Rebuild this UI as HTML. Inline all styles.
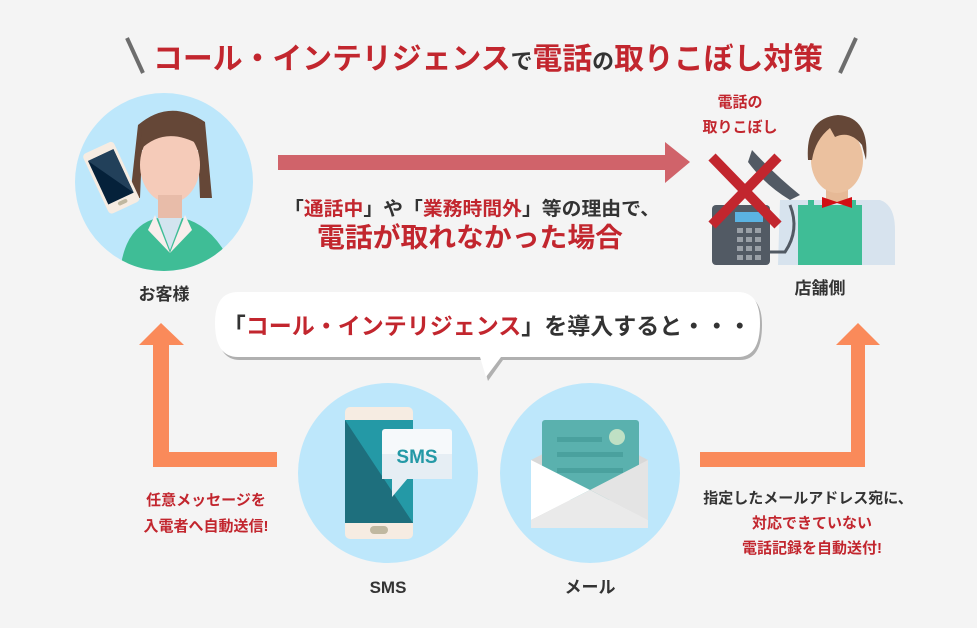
<!DOCTYPE html>
<html><head><meta charset="utf-8"><style>
html,body{margin:0;padding:0;background:#f4f4f4;}
svg{display:block;}
text{font-family:"Liberation Sans","Noto Sans CJK JP",sans-serif;font-weight:bold;}
</style></head><body>
<svg width="977" height="628" viewBox="0 0 977 628" xmlns="http://www.w3.org/2000/svg">
<rect width="977" height="628" fill="#f4f4f4"/>
<!-- title -->
<line x1="127" y1="38" x2="143" y2="73" stroke="#6d6d6d" stroke-width="4"/>
<line x1="856" y1="38" x2="840" y2="73" stroke="#6d6d6d" stroke-width="4"/>
<text x="488" y="69" font-size="30" text-anchor="middle" textLength="670" lengthAdjust="spacingAndGlyphs" fill="#c2262e">コール・インテリジェンス<tspan fill="#333" font-size="22">で</tspan>電話<tspan fill="#333" font-size="22">の</tspan>取りこぼし対策</text>

<!-- left circle customer -->
<circle cx="164" cy="182" r="89" fill="#bde7fb"/>
<clipPath id="c1"><circle cx="164" cy="182" r="89"/></clipPath>
<g clip-path="url(#c1)">
<path d="M138 125 Q170 98 205 122 L212 198 L200 198 L198 150 L142 150 L140 198 L130 198 Z" fill="#654737"/>
<ellipse cx="170" cy="165" rx="30" ry="38" fill="#f5cbb9"/>
<path d="M140 150 Q165 125 200 145 L200 125 Q170 105 142 125 Z" fill="#654737"/>
<rect x="158" y="195" width="24" height="30" fill="#e8bca9"/>
<path d="M120 272 Q125 225 158 218 L182 218 Q215 225 235 272 Z" fill="#3fbd96"/>
<path d="M158 218 L170 250 L182 218 Z" fill="#d3e4ef"/>
<path d="M155 215 L148 230 L170 253 Z" fill="#f9eeec"/>
<path d="M185 215 L192 230 L170 253 Z" fill="#f9eeec"/>
</g>
<g transform="rotate(-25 110 175)">
<rect x="93" y="145" width="34" height="66" rx="4" fill="#f6ece2"/>
<rect x="96" y="153" width="28" height="48" fill="#05213a"/>
<path d="M96 153 L124 153 L124 201 Z" fill="#22405a"/>
<rect x="105" y="203" width="10" height="4" rx="2" fill="#c0b8a0"/>
</g>
<text x="164" y="300" font-size="17" text-anchor="middle" fill="#333">お客様</text>

<!-- red arrow -->
<rect x="278" y="155" width="390" height="15" fill="#d0636a"/>
<path d="M665 142 L690 162 L665 183 Z" fill="#d0636a"/>
<text x="472" y="215" font-size="19" text-anchor="middle" textLength="376" lengthAdjust="spacingAndGlyphs" fill="#333">「<tspan fill="#c2262e">通話中</tspan>」や「<tspan fill="#c2262e">業務時間外</tspan>」等の理由で、</text>
<text x="470" y="247" font-size="27" text-anchor="middle" textLength="306" lengthAdjust="spacingAndGlyphs" fill="#c2262e">電話が取れなかった場合</text>

<!-- right: store -->
<text x="740" y="107" font-size="15" text-anchor="middle" fill="#c2262e">電話の</text>
<text x="740" y="132" font-size="15" text-anchor="middle" fill="#c2262e">取りこぼし</text>
<path d="M780 200 L880 200 Q895 205 895 230 L895 265 L778 265 Z" fill="#d7e3ee"/>
<rect x="798" y="205" width="64" height="60" fill="#3fbd96"/>
<rect x="808" y="200" width="6" height="15" fill="#3fbd96"/><rect x="850" y="200" width="6" height="15" fill="#3fbd96"/>
<rect x="826" y="180" width="22" height="22" fill="#e6b996"/>
<ellipse cx="837" cy="160" rx="26" ry="33" fill="#ebc19f"/>
<path d="M808 160 Q805 118 838 115 Q870 117 866 160 L862 145 Q850 130 835 137 L830 128 Q815 140 812 160 Z" fill="#654737"/>
<path d="M822 197 L837 202 L852 197 L852 208 L837 203 L822 208 Z" fill="#d10f14"/>
<rect x="712" y="205" width="58" height="60" rx="4" fill="#525a64"/>
<rect x="735" y="212" width="28" height="10" fill="#5bb3e2"/>
<g fill="#9aa0a7"><rect x="737" y="228" width="6" height="5"/><rect x="746" y="228" width="6" height="5"/><rect x="755" y="228" width="6" height="5"/>
<rect x="737" y="237" width="6" height="5"/><rect x="746" y="237" width="6" height="5"/><rect x="755" y="237" width="6" height="5"/>
<rect x="737" y="246" width="6" height="5"/><rect x="746" y="246" width="6" height="5"/><rect x="755" y="246" width="6" height="5"/>
<rect x="737" y="255" width="6" height="5"/><rect x="746" y="255" width="6" height="5"/><rect x="755" y="255" width="6" height="5"/></g>
<path d="M752 150 Q775 175 800 195 L790 200 Q765 185 748 162 Z" fill="#525a64"/>
<path d="M790 205 Q800 230 785 252 L770 252" stroke="#525a64" stroke-width="3" fill="none"/>
<line x1="712" y1="157" x2="778" y2="225" stroke="#c2262e" stroke-width="10"/>
<line x1="778" y1="157" x2="712" y2="225" stroke="#c2262e" stroke-width="10"/>
<text x="820" y="294" font-size="17" text-anchor="middle" fill="#333">店舗側</text>

<!-- bubble -->
<path d="M240 295 L740 295 Q762 295 762 325 Q762 360 740 360 L503 360 L488 381 L482 360 L240 360 Q217 360 217 325 Q217 295 240 295 Z" fill="#b0b0b0"/>
<path d="M238 292 L738 292 Q760 292 760 323 Q760 357 738 357 L501 357 L486 377 L480 357 L238 357 Q215 357 215 323 Q215 292 238 292 Z" fill="#fff"/>
<text x="487" y="334" font-size="23" text-anchor="middle" fill="#333">「<tspan fill="#c2262e">コール・インテリジェンス</tspan>」を導入すると・・・</text>

<!-- orange arrows -->
<path d="M153 345 L139 345 L161 323 L184 345 L169 345 L169 452 L277 452 L277 467 L153 467 Z" fill="#fa8a5a"/>
<path d="M700 452 L851 452 L851 345 L836 345 L858 323 L880 345 L865 345 L865 467 L700 467 Z" fill="#fa8a5a"/>
<text x="206" y="505" font-size="15" text-anchor="middle" fill="#c2262e">任意メッセージを</text>
<text x="206" y="531" font-size="15" text-anchor="middle" fill="#c2262e">入電者へ自動送信!</text>
<text x="808" y="503" font-size="15" text-anchor="middle" fill="#333">指定したメールアドレス宛に、</text>
<text x="812" y="528" font-size="15" text-anchor="middle" fill="#c2262e">対応できていない</text>
<text x="812" y="553" font-size="15" text-anchor="middle" fill="#c2262e">電話記録を自動送付!</text>

<!-- SMS circle -->
<circle cx="388" cy="473" r="90" fill="#bde7fb"/>
<rect x="345" y="407" width="68" height="132" rx="5" fill="#f6ece2"/>
<rect x="345" y="420" width="68" height="103" fill="#2499a6"/>
<path d="M345 420 L413 523 L345 523 Z" fill="#1e6f7d"/>
<rect x="370" y="526" width="18" height="8" rx="4" fill="#c0b8a0"/>
<rect x="382" y="429" width="70" height="50" rx="3" fill="#f6f9fb"/>
<rect x="382" y="454" width="70" height="25" fill="#e6eef4"/>
<path d="M392 478 L392 497 L408 478 Z" fill="#e6eef4"/>
<text x="417" y="463" font-size="19" text-anchor="middle" fill="#2499a6">SMS</text>
<text x="388" y="593" font-size="17" text-anchor="middle" fill="#333">SMS</text>

<!-- Mail circle -->
<circle cx="590" cy="473" r="90" fill="#bde7fb"/>
<path d="M531 460 L590 430 L648 460 L648 528 L531 528 Z" fill="#d8d8d8"/>
<rect x="542" y="420" width="97" height="80" rx="3" fill="#5ab1ae"/>
<circle cx="617" cy="437" r="8" fill="#bfe0c4"/>
<rect x="557" y="437" width="45" height="5" fill="#4aa19e"/><rect x="557" y="452" width="66" height="5" fill="#4aa19e"/><rect x="557" y="468" width="66" height="5" fill="#4aa19e"/>
<path d="M531 460 L590 490 L531 520 Z" fill="#fff"/>
<path d="M648 460 L590 490 L648 520 Z" fill="#e4e4e4"/>
<path d="M531 528 L531 520 L590 490 L648 520 L648 528 Z" fill="#eaeaea"/>
<text x="590" y="593" font-size="17" text-anchor="middle" fill="#333">メール</text>
</svg>
</body></html>
